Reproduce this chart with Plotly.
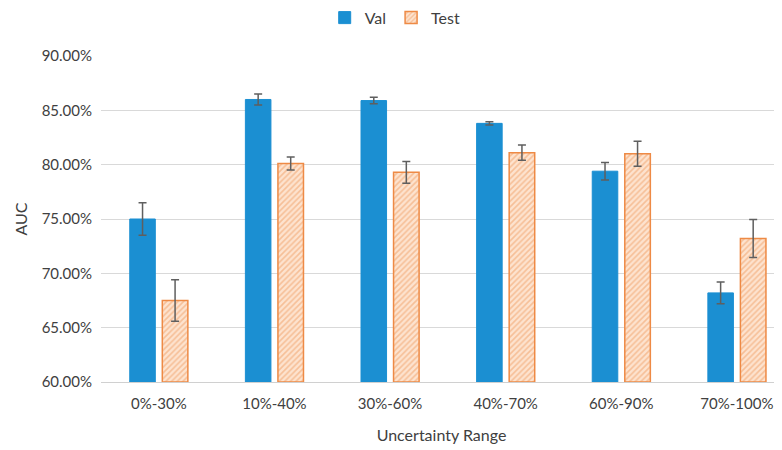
import plotly.graph_objects as go

categories = ["0%-30%", "10%-40%", "30%-60%", "40%-70%", "60%-90%", "70%-100%"]
val_auc = [75.0, 86.0, 85.9, 83.8, 79.4, 68.2]
val_err = [1.5, 0.5, 0.3, 0.15, 0.8, 1.0]
test_auc = [67.5, 80.1, 79.3, 81.1, 81.0, 73.2]
test_err = [1.9, 0.6, 1.0, 0.7, 1.15, 1.75]
y_ticks = [60, 65, 70, 75, 80, 85, 90]

font_family = "Lato, Open Sans, sans-serif"
text_color = "#404040"
err_color = "#5f5f5f"

fig = go.Figure()
fig.add_trace(go.Bar(
    name="Val", x=categories, y=[v - 60 for v in val_auc], base=60,
    marker=dict(color="#1b8fd2", line=dict(color="#1b8fd2", width=1)),
    error_y=dict(type="data", array=val_err, color=err_color, thickness=1.5, width=4),
))
fig.add_trace(go.Bar(
    name="Test", x=categories, y=[v - 60 for v in test_auc], base=60,
    marker=dict(
        color="#fcdcc4",
        line=dict(color="#ee8a45", width=1.5),
        pattern=dict(shape="/", fgcolor="#ef9b60", bgcolor="#fde3cf", size=4, solidity=0.4),
    ),
    error_y=dict(type="data", array=test_err, color=err_color, thickness=1.5, width=4),
))

# page body has an 8px default margin, so the figure is sized to fit the window
fig.update_layout(
    width=774, height=442,
    margin=dict(l=93, r=0, t=48, b=68, autoexpand=False),
    paper_bgcolor="white", plot_bgcolor="white",
    barmode="group", bargap=0.437, bargroupgap=0.215,
    font=dict(family=font_family, color=text_color, size=15),
    legend=dict(orientation="h", x=0.432, xanchor="center", yref="container", y=0.978,
                yanchor="middle", font=dict(size=16, color=text_color), itemwidth=30),
    xaxis=dict(
        title=dict(text="Uncertainty Range", font=dict(size=16, color=text_color), standoff=18),
        range=[-0.5, 5.39], showline=True, linecolor="#d0d0d0", linewidth=1,
        tickfont=dict(size=15, color=text_color), ticks="", automargin=False,
        ticklabelstandoff=8,
    ),
    yaxis=dict(
        title=dict(text="AUC", font=dict(size=16, color=text_color), standoff=10),
        range=[60, 90], tickvals=y_ticks,
        ticktext=[f"{t:.2f}%" for t in y_ticks],
        gridcolor="#d9d9d9", gridwidth=1, zeroline=False,
        tickfont=dict(size=15, color=text_color), ticks="", automargin=False,
        ticklabelstandoff=8,
    ),
)

fig.write_html("out.html")
